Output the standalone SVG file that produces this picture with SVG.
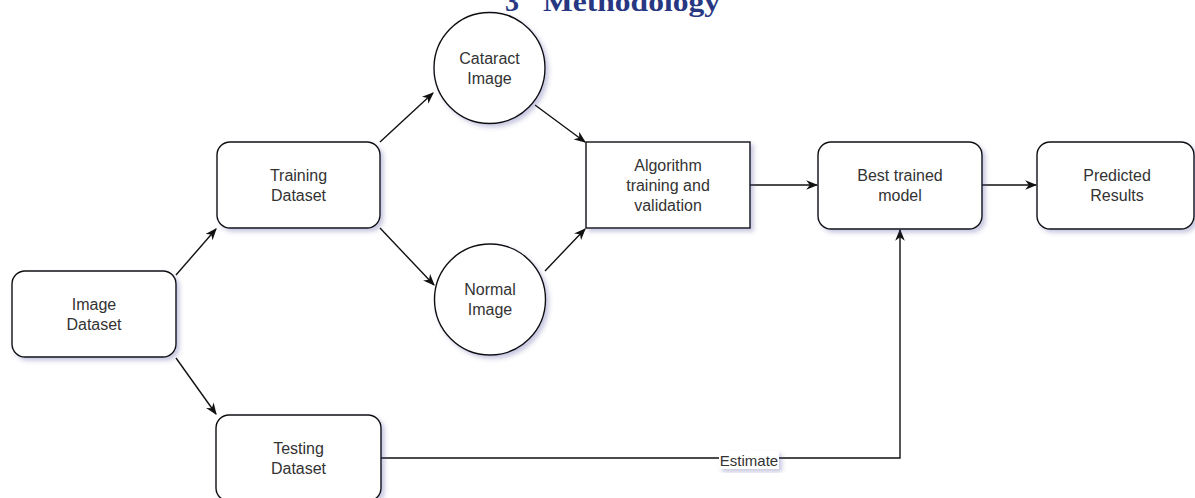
<svg xmlns="http://www.w3.org/2000/svg" width="1195" height="498" viewBox="0 0 1195 498">
<style>
.n{fill:#fff;stroke:#111;stroke-width:1.4;filter:url(#sh)}
.t{font-family:"Liberation Sans",Arial,sans-serif;font-size:16px;fill:#333;text-anchor:middle}
.c{fill:none;stroke:#111;stroke-width:1.4;marker-end:url(#ah)}
</style>
<defs>
<filter id="sh" x="-20%" y="-20%" width="140%" height="140%">
<feGaussianBlur in="SourceAlpha" stdDeviation="2"/>
<feOffset dx="3" dy="3" result="b"/>
<feFlood flood-color="#4a4a9a" flood-opacity="0.3"/>
<feComposite in2="b" operator="in" result="s"/>
<feMerge><feMergeNode in="s"/><feMergeNode in="SourceGraphic"/></feMerge>
</filter>
<marker id="ah" viewBox="0 0 10 8" refX="9" refY="4" markerWidth="12" markerHeight="9.6" markerUnits="userSpaceOnUse" orient="auto">
<path d="M0,0 L10,4 L0,8 L3,4 z" fill="#111"/>
</marker>
</defs>
<rect width="1195" height="498" fill="#fff"/>
<g id="title">
<text x="505" y="11" font-family="'Liberation Serif',serif" font-weight="bold" font-size="28" fill="#283782">3</text>
<text x="543" y="11" font-family="'Liberation Serif',serif" font-weight="bold" font-size="28" fill="#283782" textLength="177" lengthAdjust="spacingAndGlyphs">Methodology</text>
</g>
<g id="connectors">
<line class="c" x1="176" y1="275" x2="216" y2="229"/>
<line class="c" x1="176" y1="358" x2="216" y2="414"/>
<line class="c" x1="380" y1="142" x2="433" y2="93"/>
<line class="c" x1="380" y1="228" x2="434" y2="285"/>
<line class="c" x1="535" y1="105" x2="585" y2="142"/>
<line class="c" x1="545" y1="271" x2="585" y2="229"/>
<line class="c" x1="750" y1="185" x2="817" y2="185"/>
<line class="c" x1="982" y1="185" x2="1036" y2="185"/>
<polyline class="c" points="381,458 900,458 900,230"/>
<rect x="719" y="451" width="60" height="18" fill="#fff" filter="url(#sh)"/>
<text x="749" y="465.5" font-family="'Liberation Sans',Arial,sans-serif" font-size="15" fill="#333" text-anchor="middle">Estimate</text>
</g>
<g id="image-dataset">
<rect class="n" x="12" y="271" width="164" height="86" rx="13"/>
<text class="t" x="94" y="310">Image</text>
<text class="t" x="94" y="330">Dataset</text>
</g>
<g id="training-dataset">
<rect class="n" x="217" y="142" width="163" height="86" rx="13"/>
<text class="t" x="298.5" y="180.5">Training</text>
<text class="t" x="298.5" y="200.5">Dataset</text>
</g>
<g id="testing-dataset">
<rect class="n" x="216" y="415" width="165" height="86" rx="13"/>
<text class="t" x="298.5" y="453.5">Testing</text>
<text class="t" x="298.5" y="473.5">Dataset</text>
</g>
<g id="cataract-image">
<circle class="n" cx="489.5" cy="68" r="55.5"/>
<text class="t" x="489.5" y="64">Cataract</text>
<text class="t" x="489.5" y="84">Image</text>
</g>
<g id="normal-image">
<circle class="n" cx="490" cy="299.5" r="55.5"/>
<text class="t" x="490" y="295">Normal</text>
<text class="t" x="490" y="315">Image</text>
</g>
<g id="algorithm">
<rect class="n" x="586" y="142" width="164" height="86"/>
<text class="t" x="668" y="170.5">Algorithm</text>
<text class="t" x="668" y="190.5">training and</text>
<text class="t" x="668" y="210.5">validation</text>
</g>
<g id="best-model">
<rect class="n" x="818" y="142" width="164" height="87" rx="13"/>
<text class="t" x="900" y="181">Best trained</text>
<text class="t" x="900" y="201">model</text>
</g>
<g id="predicted-results">
<rect class="n" x="1037" y="142" width="157" height="87" rx="13"/>
<text class="t" x="1117" y="181">Predicted</text>
<text class="t" x="1117" y="201">Results</text>
</g>
</svg>
